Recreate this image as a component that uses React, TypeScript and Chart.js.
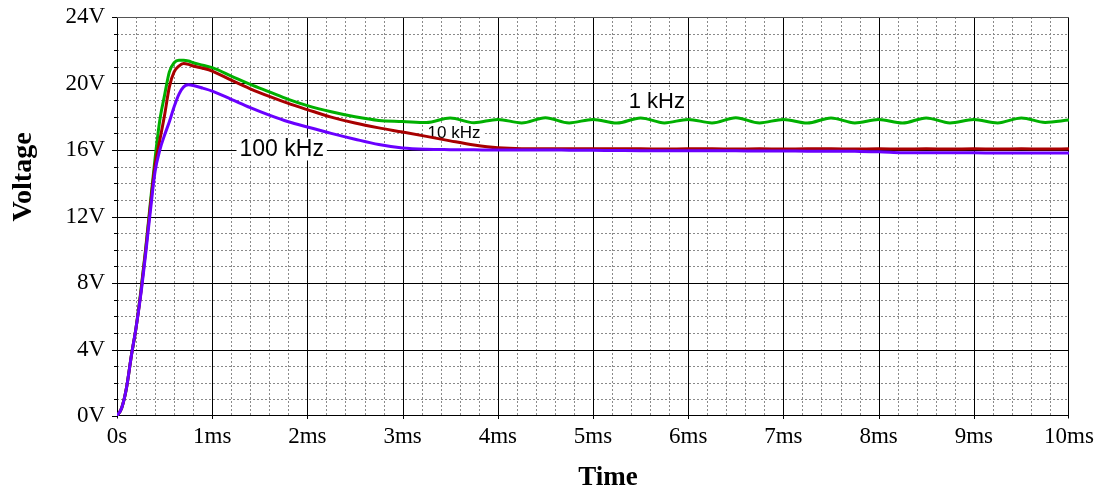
import React, { useEffect, useRef } from 'react';
import { Chart, registerables } from 'chart.js';

Chart.register(...registerables);

// Time axis (ms)
const timeMs = [
  0, 0.05, 0.1, 0.15, 0.2, 0.25, 0.3, 0.35, 0.4, 0.45, 0.5, 0.55, 0.6, 0.65, 0.7, 0.75, 0.8,
  0.9, 1.0, 1.2, 1.4, 1.6, 1.8, 2.0,
  2.25, 2.5, 2.75, 3.0, 3.25, 3.5, 3.75, 4.0, 4.25, 4.5, 4.75, 5.0, 5.25, 5.5, 5.75, 6.0,
  6.25, 6.5, 6.75, 7.0, 7.25, 7.5, 7.75, 8.0, 8.25, 8.5, 8.75, 9.0, 9.25, 9.5, 9.75, 10.0,
];

// 1 kHz (green)
const v1kHz = [
  0, 0.5, 1.7, 3.6, 5.3, 7.5, 10.0, 12.8, 15.5, 17.8, 19.3, 20.7, 21.25, 21.4, 21.4, 21.35, 21.25,
  21.1, 20.95, 20.45, 19.95, 19.5, 19.05, 18.67,
  18.3, 18.0, 17.78, 17.72, 17.65, 17.93, 17.64, 17.84, 17.63, 17.94, 17.63, 17.84, 17.62, 17.93, 17.63, 17.84,
  17.63, 17.94, 17.63, 17.84, 17.62, 17.93, 17.63, 17.83, 17.62, 17.93, 17.63, 17.83, 17.63, 17.93, 17.66, 17.8,
];

// 10 kHz (dark red)
const v10kHz = [
  0, 0.5, 1.7, 3.6, 5.3, 7.4, 9.9, 12.6, 15.1, 16.6, 18.1, 19.8, 20.7, 21.05, 21.2, 21.15, 21.05,
  20.92, 20.75, 20.2, 19.68, 19.22, 18.8, 18.43,
  17.98, 17.62, 17.33, 17.08, 16.82, 16.55, 16.3, 16.13, 16.08, 16.08, 16.07, 16.08, 16.07, 16.07, 16.06, 16.07,
  16.07, 16.06, 16.07, 16.06, 16.07, 16.07, 16.06, 16.07, 16.06, 16.07, 16.06, 16.07, 16.06, 16.07, 16.06, 16.07,
];

// 100 kHz (blue-violet)
const v100kHz = [
  0, 0.5, 1.7, 3.6, 5.3, 7.3, 9.7, 12.3, 14.7, 16.0, 16.9, 17.7, 18.6, 19.35, 19.8, 19.92, 19.88,
  19.72, 19.54, 19.05, 18.55, 18.1, 17.7, 17.38,
  17.0, 16.65, 16.33, 16.12, 16.04, 16.02, 16.01, 16.0, 16.0, 16.0, 15.99, 15.98, 15.97, 15.96, 15.96, 15.95,
  15.95, 15.95, 15.94, 15.94, 15.93, 15.93, 15.92, 15.9, 15.84, 15.83, 15.83, 15.83, 15.82, 15.82, 15.82, 15.82,
];

const xTickLabels = ['0s', '1ms', '2ms', '3ms', '4ms', '5ms', '6ms', '7ms', '8ms', '9ms', '10ms'];
const yTickLabels = ['0V', '4V', '8V', '12V', '16V', '20V', '24V'];

const curveLabels = ['1 kHz', '10 kHz', '100 kHz'];
const curveLabelTimes = [5.67, 3.54, 1.73];
const curveLabelVolts = [18.95, 17.05, 16.06];
const curveLabelSizes = [22, 17, 23];

const SERIF = "'Liberation Serif', 'Times New Roman', serif";
const SANS = "'Liberation Sans', Arial, sans-serif";

const gridPlugin = {
  id: 'pspiceGrid',
  beforeDatasetsDraw(chart: any) {
    const { ctx, chartArea: a, scales } = chart;
    const x = scales.x;
    const y = scales.y;
    ctx.save();
    ctx.lineWidth = 1;
    // minor dashed grid
    ctx.strokeStyle = '#8a8a8a';
    ctx.setLineDash([2, 2]);
    ctx.beginPath();
    for (let i = 1; i < 50; i++) {
      if (i % 5 === 0) continue;
      const px = Math.round(x.getPixelForValue(i * 0.2)) + 0.5;
      ctx.moveTo(px, a.top);
      ctx.lineTo(px, a.bottom);
    }
    for (let j = 1; j < 24; j++) {
      if (j % 4 === 0) continue;
      const py = Math.round(y.getPixelForValue(j)) + 0.5;
      ctx.moveTo(a.left, py);
      ctx.lineTo(a.right, py);
    }
    ctx.stroke();
    ctx.setLineDash([]);
    // major solid grid
    ctx.strokeStyle = '#000';
    ctx.beginPath();
    for (let i = 1; i < 10; i++) {
      const px = Math.round(x.getPixelForValue(i)) + 0.5;
      ctx.moveTo(px, a.top);
      ctx.lineTo(px, a.bottom + 3);
    }
    for (let j = 4; j < 24; j += 4) {
      const py = Math.round(y.getPixelForValue(j)) + 0.5;
      ctx.moveTo(a.left, py);
      ctx.lineTo(a.right, py);
    }
    // left ticks
    for (let j = 0; j <= 24; j++) {
      const py = Math.round(y.getPixelForValue(j)) + 0.5;
      const len = j % 4 === 0 ? 5 : 3;
      ctx.moveTo(a.left - len, py);
      ctx.lineTo(a.left, py);
    }
    ctx.stroke();
    // frame
    const l = Math.round(a.left) + 0.5;
    const r = Math.round(a.right) - 0.5;
    const t = Math.round(a.top) + 0.5;
    const b = Math.round(a.bottom) - 0.5;
    ctx.strokeStyle = '#555';
    ctx.beginPath();
    ctx.moveTo(l, t);
    ctx.lineTo(r, t);
    ctx.stroke();
    ctx.strokeStyle = '#000';
    ctx.beginPath();
    ctx.moveTo(r, t);
    ctx.lineTo(r, b + 3);
    ctx.moveTo(l, t);
    ctx.lineTo(l, b);
    ctx.lineTo(r, b);
    ctx.moveTo(l, b);
    ctx.lineTo(l, b + 3);
    ctx.stroke();

    // curve labels with white background
    for (let k = 0; k < curveLabels.length; k++) {
      const cx = x.getPixelForValue(curveLabelTimes[k]);
      const cy = y.getPixelForValue(curveLabelVolts[k]);
      const size = curveLabelSizes[k];
      ctx.font = `${size}px ${SANS}`;
      const w = ctx.measureText(curveLabels[k]).width;
      ctx.fillStyle = '#fff';
      ctx.fillRect(cx - w / 2 - 3, cy - size * 0.5, w + 6, size);
      ctx.fillStyle = '#000';
      ctx.textAlign = 'center';
      ctx.textBaseline = 'middle';
      ctx.fillText(curveLabels[k], cx, cy + 1);
    }
    ctx.restore();
  },
  afterDraw(chart: any) {
    const { ctx, chartArea: a } = chart;
    ctx.save();
    ctx.fillStyle = '#000';
    ctx.textAlign = 'center';
    ctx.textBaseline = 'middle';
    ctx.font = `bold 27px ${SERIF}`;
    ctx.fillText('Time', (a.left + a.right) / 2 + 15, 478);
    ctx.translate(24, 177);
    ctx.rotate(-Math.PI / 2);
    ctx.font = `bold 28px ${SERIF}`;
    ctx.fillText('Voltage', 0, 0);
    ctx.restore();
  },
};

const toPoints = (vals: number[]) => timeMs.map((t, i) => ({ x: t, y: vals[i] }));

const zeroPad = (s: any) => {
  s.paddingTop = 0;
  s.paddingBottom = 0;
  s.paddingLeft = 0;
  s.paddingRight = 0;
};

export default function App() {
  const canvasRef = useRef<HTMLCanvasElement | null>(null);

  useEffect(() => {
    const canvas = canvasRef.current;
    if (!canvas) return;
    const common = {
      borderWidth: 3,
      pointRadius: 0,
      fill: false,
      cubicInterpolationMode: 'monotone' as const,
    };
    const chart = new Chart(canvas, {
      type: 'line',
      data: {
        datasets: [
          { ...common, label: '100 kHz', data: toPoints(v100kHz), borderColor: '#6a00ff' },
          { ...common, label: '10 kHz', data: toPoints(v10kHz), borderColor: '#a80000' },
          { ...common, label: '1 kHz', data: toPoints(v1kHz), borderColor: '#00b000' },
        ],
      },
      options: {
        responsive: false,
        animation: false,
        devicePixelRatio: 1,
        layout: { padding: { left: 0, top: 17, right: 33, bottom: 0 } },
        plugins: { legend: { display: false }, tooltip: { enabled: false } },
        scales: {
          x: {
            type: 'linear',
            min: 0,
            max: 10,
            grid: { display: false, drawTicks: false },
            border: { display: false },
            ticks: {
              stepSize: 1,
              padding: 7,
              color: '#000',
              font: { family: SERIF, size: 23 },
              maxRotation: 0,
              autoSkip: false,
              callback: (v: any) => xTickLabels[Math.round(Number(v))] ?? '',
            },
            afterFit: (s: any) => {
              s.height = 76;
              zeroPad(s);
            },
          },
          y: {
            type: 'linear',
            min: 0,
            max: 24,
            grid: { display: false, drawTicks: false },
            border: { display: false },
            ticks: {
              stepSize: 4,
              padding: 12,
              color: '#000',
              font: { family: SERIF, size: 23 },
              callback: (v: any) => yTickLabels[Math.round(Number(v) / 4)] ?? '',
            },
            afterFit: (s: any) => {
              s.width = 117;
              zeroPad(s);
            },
          },
        },
      },
      plugins: [gridPlugin],
    });
    return () => chart.destroy();
  }, []);

  return (
    <div style={{ position: 'absolute', left: 0, top: 0, width: 1102, height: 492, background: '#fff' }}>
      <canvas ref={canvasRef} width={1102} height={492} style={{ display: 'block' }} />
    </div>
  );
}
